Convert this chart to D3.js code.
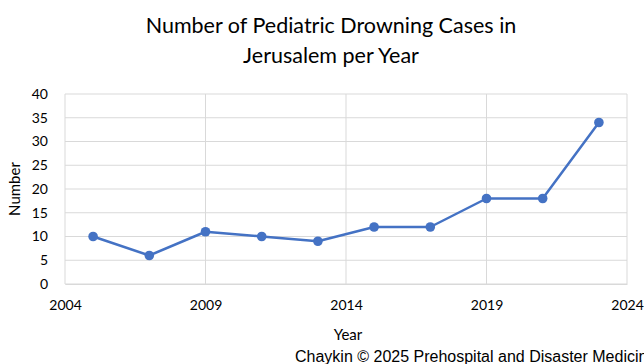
<!DOCTYPE html>
<html>
<head>
<meta charset="utf-8">
<script src="https://cdn.jsdelivr.net/npm/d3@7"></script>
<style>
  html, body { margin: 0; padding: 0; background: #fff; overflow: hidden; }
  svg { display: block; }
  text { font-family: Lato, "Open Sans", sans-serif; fill: #000; }
</style>
</head>
<body>
<script>
const years = [2005, 2007, 2009, 2011, 2013, 2015, 2017, 2019, 2021, 2023];
const cases = [10, 6, 11, 10, 9, 12, 12, 18, 18, 34];
const xTicks = [2004, 2009, 2014, 2019, 2024];
const yTicks = [0, 5, 10, 15, 20, 25, 30, 35, 40];
const titleLines = ["Number of Pediatric Drowning Cases in", "Jerusalem per Year"];

const W = 644, H = 364;
const svg = d3.select("body").append("svg").attr("width", W).attr("height", H);

const x = d3.scaleLinear().domain([2004, 2024]).range([65, 627]);
const y = d3.scaleLinear().domain([0, 40]).range([284, 94]);

// gridlines
svg.append("g").selectAll("line.h").data(yTicks).join("line")
  .attr("x1", x(2004)).attr("x2", x(2024))
  .attr("y1", d => y(d)).attr("y2", d => y(d))
  .attr("stroke", "#d9d9d9").attr("stroke-width", 1);
svg.append("g").selectAll("line.v").data(xTicks).join("line")
  .attr("x1", d => x(d)).attr("x2", d => x(d))
  .attr("y1", y(0)).attr("y2", y(40))
  .attr("stroke", "#d9d9d9").attr("stroke-width", 1);

// axes (labels only; the frame is drawn by the gridlines)
const xAxis = svg.append("g").attr("transform", `translate(0,${y(0)})`)
  .call(d3.axisBottom(x).tickValues(xTicks).tickFormat(d3.format("d")).tickSize(0).tickPadding(16));
xAxis.select(".domain").attr("stroke", "#d9d9d9");
xAxis.selectAll("text").style("font-size", "14px").style("font-family", "Lato, sans-serif").attr("fill", "#000");

const yAxis = svg.append("g").attr("transform", `translate(${x(2004)},0)`)
  .call(d3.axisLeft(y).tickValues(yTicks).tickSize(0).tickPadding(17));
yAxis.select(".domain").remove();
yAxis.selectAll("text").style("font-size", "14px").style("font-family", "Lato, sans-serif").attr("fill", "#000");

// series line and markers
const pts = years.map((yr, i) => [yr, cases[i]]);
svg.append("path").datum(pts)
  .attr("fill", "none").attr("stroke", "#4472C4").attr("stroke-width", 2.5)
  .attr("stroke-linejoin", "round")
  .attr("d", d3.line().x(d => x(d[0])).y(d => y(d[1])));
svg.append("g").selectAll("circle").data(pts).join("circle")
  .attr("cx", d => x(d[0])).attr("cy", d => y(d[1])).attr("r", 4.8)
  .attr("fill", "#4472C4");

// titles
svg.append("g").selectAll("text").data(titleLines).join("text")
  .attr("x", 331).attr("y", (d, i) => 33 + i * 30)
  .attr("text-anchor", "middle").style("font-size", "21.5px").text(d => d);

svg.append("text").attr("x", 348).attr("y", 340).attr("text-anchor", "middle")
  .style("font-size", "15px").text("Year");
svg.append("text").attr("transform", "translate(20,189) rotate(-90)")
  .attr("text-anchor", "middle").style("font-size", "15px").text("Number");

svg.append("text").attr("x", 295).attr("y", 362)
  .style("font-family", "'Liberation Sans', Arial, sans-serif").style("font-size", "16px")
  .attr("fill", "#222").text("Chaykin © 2025 Prehospital and Disaster Medicine");
</script>
</body>
</html>
